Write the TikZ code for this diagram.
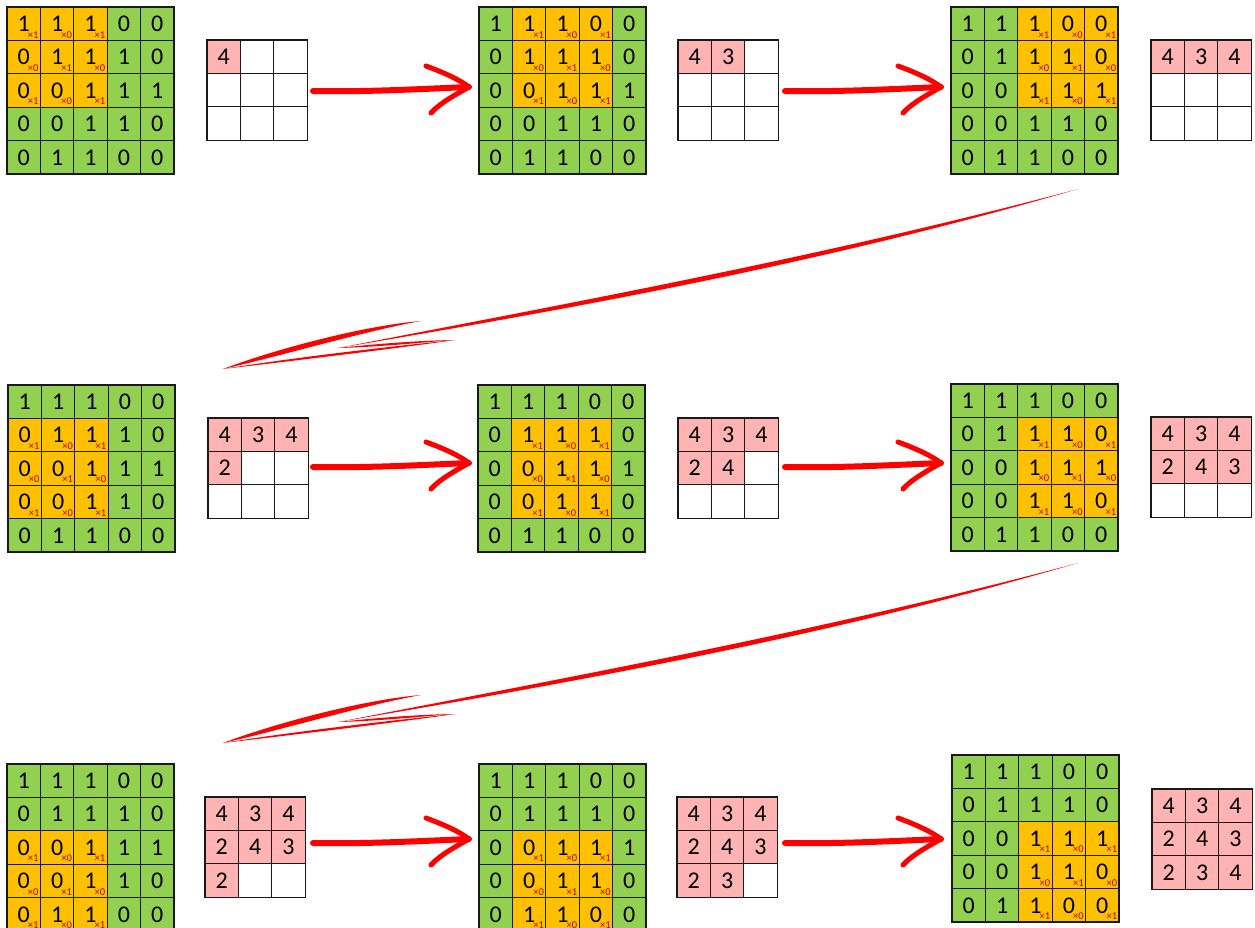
\documentclass[tikz,border=0pt]{standalone}
\usepackage{fontspec}
\setmainfont{Carlito}
\definecolor{cgreen}{HTML}{92D050}
\definecolor{corange}{HTML}{FFC000}
\definecolor{cpink}{HTML}{FFB3B3}
\definecolor{cdred}{HTML}{C00000}
\definecolor{cred}{HTML}{FF0000}
\begin{document}
\begin{tikzpicture}[x=1pt,y=-1pt,
  cell/.style={draw=black!90, line width=1.2pt, minimum size=33.4pt, inner sep=0pt, font=\fontsize{24}{24}\selectfont},
  kernlbl/.style={text=cdred, font=\fontsize{10.5}{10.5}\selectfont, inner sep=0pt},
  brush/.style={fill=cred, draw=none},
  hstroke/.style={draw=cred, line width=6pt, line cap=round, line join=round},
  hbarb/.style={draw=cred, line width=5pt, line cap=round, line join=round}]
\useasboundingbox (0,0) rectangle (1255,928);
\clip (0,0) rectangle (1255,928);
\def\M{{1,1,1,0,0,0,1,1,1,0,0,0,1,1,1,0,0,1,1,0,0,1,1,0,0}}
\def\K{{1,0,1,0,1,0,1,0,1}}
\def\O{{4,3,4,2,4,3,2,3,4}}
\foreach \k/\gx/\gy/\ox/\oy in {1/7/7/207/40, 2/479/7/678/40, 3/951/7/1151/40,
    4/8/385/208/418, 5/478/385/678/418, 6/951/384/1151/417,
    7/7/764/205/797, 8/479/764/677/797, 9/952/755/1152/789}{
  \pgfmathtruncatemacro\wr{int((\k-1)/3)}
  \pgfmathtruncatemacro\wc{mod(\k-1,3)}
  \foreach \r in {0,...,4}{
    \foreach \c in {0,...,4}{
      \pgfmathtruncatemacro\v{\M[\r*5+\c]}
      \pgfmathtruncatemacro\dr{\r-\wr}
      \pgfmathtruncatemacro\dc{\c-\wc}
      \pgfmathtruncatemacro\inwin{(\dr>-1)*(\dr<3)*(\dc>-1)*(\dc<3)}
      \ifnum\inwin=1
        \pgfmathtruncatemacro\kv{\K[\dr*3+\dc]}
        \node[cell, fill=corange] (p\k-\r-\c) at (\gx+16.7+33.4*\c, \gy+16.7+33.4*\r) {\v};
        \node[kernlbl] (p\k-\r-\c-k) at (\gx+16.7+33.4*\c+9.5, \gy+16.7+33.4*\r+11) {×\kv};
      \else
        \node[cell, fill=cgreen] (p\k-\r-\c) at (\gx+16.7+33.4*\c, \gy+16.7+33.4*\r) {\v};
      \fi
    }
  }
  \foreach \r in {0,1,2}{
    \foreach \c in {0,1,2}{
      \pgfmathtruncatemacro\idx{\r*3+\c}
      \ifnum\idx<\k
        \pgfmathtruncatemacro\ov{\O[\idx]}
        \node[cell, fill=cpink] (o\k-\r-\c) at (\ox+16.7+33.4*\c, \oy+16.7+33.4*\r) {\ov};
      \else
        \node[cell, fill=white] (o\k-\r-\c) at (\ox+16.7+33.4*\c, \oy+16.7+33.4*\r) {};
      \fi
    }
  }
}
% horizontal arrows
\foreach \dx/\dy [count=\i] in {0/0, 472/0, 0/376, 472/376, 0/752, 472/752}{
  \begin{scope}[shift={(\dx,\dy)}]
    \coordinate (h\i-s) at (313,91);
    \coordinate (h\i-t) at (469,87);
    \coordinate (h\i-u) at (426,66);
    \coordinate (h\i-l) at (431,113);
    \draw[hstroke] (h\i-s) .. controls (370,92) and (420,89) .. (h\i-t);
    \draw[hbarb] (h\i-u) .. controls (445,73) and (460,80) .. (h\i-t) .. controls (455,95) and (440,103) .. (h\i-l);
  \end{scope}
}
% diagonal arrows
\foreach \dy [count=\i] in {0,374}{
  \begin{scope}[shift={(0,\dy)}]
    \coordinate (d\i-s) at (1078,189);
    \coordinate (d\i-e) at (338,348);
    \coordinate (d\i-t) at (223,369);
    \coordinate (d\i-u) at (421,321);
    \coordinate (d\i-l) at (455,340);
    \fill[brush] (d\i-s) .. controls (828,255.5) and (588,299.5) .. (d\i-e) .. controls (588,306) and (828,262) .. (d\i-s) -- cycle;
    \fill[brush] (d\i-t) .. controls (270,351) and (360,326) .. (d\i-u) .. controls (365,331) and (275,357.5) .. (d\i-t) -- cycle;
    \fill[brush] (d\i-t) .. controls (300,356.5) and (400,345.5) .. (d\i-l) .. controls (400,348) and (300,360) .. (d\i-t) -- cycle;
    \fill[brush] (d\i-e) .. controls (380,343.5) and (420,340.5) .. (d\i-l) .. controls (420,342.5) and (380,347) .. (d\i-e) -- cycle;
  \end{scope}
}
\end{tikzpicture}
\end{document}
